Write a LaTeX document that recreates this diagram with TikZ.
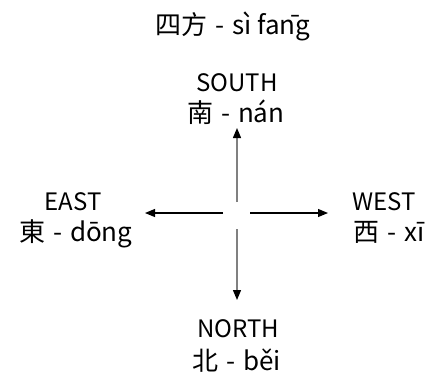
\documentclass[tikz,border=0pt]{standalone}
\usepackage{fontspec}
\setmainfont{Noto Sans CJK SC}
\usetikzlibrary{arrows.meta}
\newcommand{\dsh}{\hspace{0.3em}-\hspace{0.3em}}
\tikzset{
  lbl/.style={inner sep=0pt, outer sep=0pt, anchor=base, font=\fontsize{24}{26}\selectfont},
  zh/.style={inner sep=0pt, outer sep=0pt, anchor=base, font=\fontsize{26}{28}\selectfont},
  harrow/.style={line width=1.1pt, -{Triangle[length=10pt,width=8pt]}},
  varrow/.style={line width=1.3pt, draw=gray, -{Triangle[length=10pt,width=8pt,color=black]}}
}
\begin{document}
\begin{tikzpicture}[x=1pt,y=-1pt]
\useasboundingbox (0,0) rectangle (435,378);
\node[zh] (title) at (233,34) {四方\dsh sì fa\={n}g};
\node[lbl] (south) at (237,91) {SOUTH};
\node[zh] (southzh) at (236,122) {南\dsh nán};
\node[lbl] (east) at (73,210) {EAST};
\node[zh] (eastzh) at (76,241) {東\dsh dōng};
\node[lbl] (west) at (384,210) {WEST};
\node[zh] (westzh) at (389,241) {西\dsh xī};
\node[lbl] (north) at (238,337) {NORTH};
\node[zh] (northzh) at (237,370) {北\dsh běi};
\coordinate (cu) at (237,202);
\coordinate (cd) at (237,229);
\coordinate (cl) at (223,213);
\coordinate (cr) at (250,213);
\coordinate (tu) at (237,128);
\coordinate (td) at (237,300);
\coordinate (tl) at (145,213);
\coordinate (tr) at (328,213);
\draw[varrow] (cu) -- (tu);
\draw[varrow] (cd) -- (td);
\draw[harrow] (cl) -- (tl);
\draw[harrow] (cr) -- (tr);
\end{tikzpicture}
\end{document}
